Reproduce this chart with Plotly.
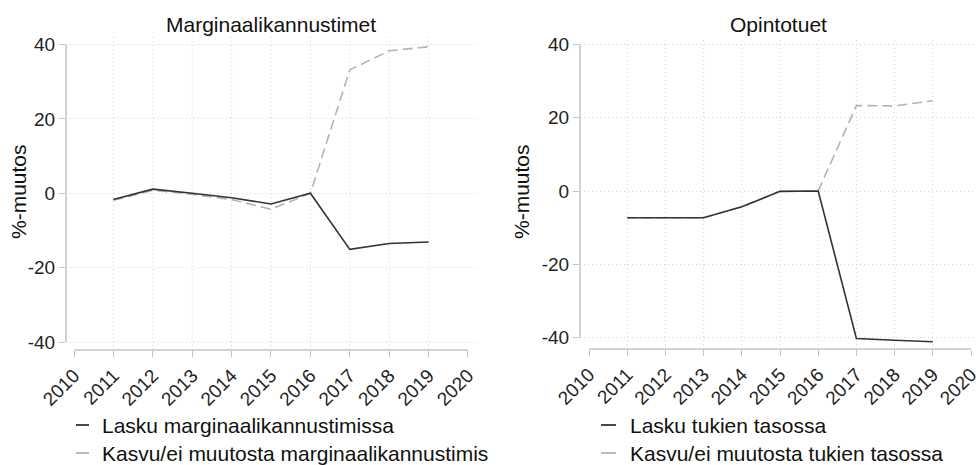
import plotly.graph_objects as go

# ---------------- data ----------------
years = [2011, 2012, 2013, 2014, 2015, 2016, 2017, 2018, 2019]
axis_years = list(range(2010, 2021))
y_ticks = [-40, -20, 0, 20, 40]
y_tick_labels = ["-40", "-20", "0", "20", "40"]

titles = ["Marginaalikannustimet", "Opintotuet"]
y_title = "%-muutos"

marg_lasku = [-1.7, 1.1, 0.0, -1.2, -2.9, 0.0, -15.1, -13.5, -13.1]
marg_kasvu = [-1.9, 0.8, -0.3, -1.7, -4.3, 0.0, 33.2, 38.3, 39.4]
marg_names = ["Lasku marginaalikannustimissa",
              "Kasvu/ei muutosta marginaalikannustimis"]

opin_lasku = [-7.3, -7.3, -7.3, -4.3, -0.1, 0.0, -40.2, -40.7, -41.1]
opin_kasvu = [-7.3, -7.3, -7.3, -4.3, -0.1, 0.0, 23.3, 23.2, 24.6]
opin_names = ["Lasku tukien tasossa", "Kasvu/ei muutosta tukien tasossa"]

# ---------------- layout geometry ----------------
W, H = 976, 465
FONT = "Liberation Sans, Arial, sans-serif"
DARK = "#333333"
LIGHT = "#b3b3b3"
AXC = "#c4c4c4"
GRID = "#d2d2d2"
GRIDDASH = "1px,3px"

panels = [
    dict(xd=[66 / W, 475 / W], yd=[1 - 350 / H, 1 - 37 / H],
         xr=[2009.797, 2020.178], yr=[-42.151, 42.017],
         xline_y=350, ytitle_x=19, leg_line=(76, 89), leg_text=100),
    dict(xd=[580 / W, 1.0], yd=[1 - 349 / H, 1 - 37 / H],
         xr=[2009.764, 2020.131], yr=[-43.08, 41.99],
         xline_y=349, ytitle_x=522, leg_line=(601, 616), leg_text=628),
]


def xp(v, p):
    d, r = p["xd"], p["xr"]
    return d[0] + (v - r[0]) / (r[1] - r[0]) * (d[1] - d[0])


def yp(v, p):
    d, r = p["yd"], p["yr"]
    return d[0] + (v - r[0]) / (r[1] - r[0]) * (d[1] - d[0])


fig = go.Figure()
series = [(marg_lasku, marg_kasvu, marg_names), (opin_lasku, opin_kasvu, opin_names)]
shapes, annots = [], []

for i, (p, (lasku, kasvu, names)) in enumerate(zip(panels, series)):
    sfx = "" if i == 0 else str(i + 1)
    xa, ya = "x" + sfx, "y" + sfx
    fig.add_trace(go.Scatter(x=years, y=kasvu, mode="lines", name=names[1],
                             xaxis=xa, yaxis=ya, showlegend=False,
                             line=dict(color=LIGHT, width=1.6, dash="10px,5px")))
    fig.add_trace(go.Scatter(x=years, y=lasku, mode="lines", name=names[0],
                             xaxis=xa, yaxis=ya, showlegend=False,
                             line=dict(color=DARK, width=1.6)))

    fig.layout["xaxis" + sfx] = dict(
        domain=p["xd"], range=p["xr"], anchor=ya, tickvals=axis_years,
        ticktext=[str(y) for y in axis_years],
        ticks="outside", ticklen=6, tickcolor=AXC, tickwidth=1.2,
        tickangle=-45, showgrid=False, zeroline=False, showline=False,
        automargin=False, ticklabeloverflow="allow",
        tickfont=dict(size=19, color="#222222", family=FONT), fixedrange=True)
    fig.layout["yaxis" + sfx] = dict(
        domain=p["yd"], range=p["yr"], anchor=xa, tickvals=y_ticks,
        ticktext=y_tick_labels, ticklabeloverflow="allow",
        ticks="outside", ticklen=6, tickcolor=AXC, tickwidth=1.2,
        showgrid=True, gridcolor=GRID, griddash=GRIDDASH, gridwidth=1,
        zeroline=False, showline=False, automargin=False,
        tickfont=dict(size=19, color="#222222", family=FONT), fixedrange=True)

    # vertical dotted gridlines at data years
    for yr in years:
        shapes.append(dict(type="line", xref=xa, yref=ya, x0=yr, x1=yr,
                           y0=p["yr"][0], y1=p["yr"][1], layer="below",
                           line=dict(color=GRID, width=1, dash=GRIDDASH)))
    # axis lines (Stata style, offset)
    shapes.append(dict(type="line", xref="paper", yref="paper",
                       x0=p["xd"][0], x1=p["xd"][0],
                       y0=yp(y_ticks[0], p), y1=yp(y_ticks[-1], p),
                       line=dict(color=AXC, width=1.5)))
    yl = 1 - p["xline_y"] / H
    shapes.append(dict(type="line", xref="paper", yref="paper",
                       x0=xp(axis_years[0], p), x1=xp(axis_years[-1], p),
                       y0=yl, y1=yl, line=dict(color=AXC, width=1.5)))

    # title
    annots.append(dict(text=titles[i], xref="paper", yref="paper",
                       x=(p["xd"][0] + p["xd"][1]) / 2, y=1 - 24 / H,
                       xanchor="center", yanchor="middle", showarrow=False,
                       font=dict(size=21, color="#111111", family=FONT)))
    # y title
    annots.append(dict(text=y_title, xref="paper", yref="paper",
                       x=p["ytitle_x"] / W, y=1 - 192 / H, textangle=-90,
                       xanchor="center", yanchor="middle", showarrow=False,
                       font=dict(size=21, color="#111111", family=FONT)))
    # legend (manual)
    for k, (nm, col, ly) in enumerate([(names[0], DARK, 425), (names[1], LIGHT, 453)]):
        shapes.append(dict(type="line", xref="paper", yref="paper",
                           x0=p["leg_line"][0] / W, x1=p["leg_line"][1] / W,
                           y0=1 - ly / H, y1=1 - ly / H,
                           line=dict(color=col, width=1.8)))
        annots.append(dict(text=nm, xref="paper", yref="paper",
                           x=p["leg_text"] / W, y=1 - ly / H,
                           xanchor="left", yanchor="middle", showarrow=False,
                           font=dict(size=21, color="#111111", family=FONT)))

fig.update_layout(
    width=W, height=H, margin=dict(l=0, r=0, t=0, b=0, autoexpand=False),
    paper_bgcolor="white", plot_bgcolor="white",
    showlegend=False, shapes=shapes, annotations=annots,
    font=dict(family=FONT),
)

fig.write_html("out.html", config={"displayModeBar": False},
               post_script="document.body.style.margin='0px';")
